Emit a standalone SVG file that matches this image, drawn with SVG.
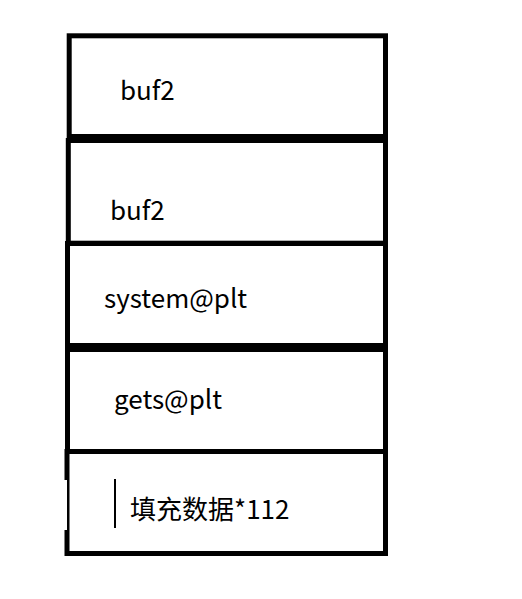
<svg xmlns="http://www.w3.org/2000/svg" width="522" height="599" viewBox="0 0 522 599">
<style>
.box{fill:none;stroke:#000;stroke-width:5}
.t{font-family:"Noto Sans CJK SC","Microsoft YaHei","Noto Sans",sans-serif;font-size:26px;fill:#000}
</style>
<rect width="522" height="599" fill="#fff"/>
<g id="node-buf2-top"><rect class="box" x="69.2" y="35.8" width="316.3" height="100.7"/><text class="t" x="120" y="100">buf2</text></g>
<g id="node-buf2"><rect class="box" x="68.3" y="140.5" width="317.2" height="102.7"/><text class="t" x="110" y="220">buf2</text></g>
<g id="node-system"><rect class="box" x="67.5" y="243.5" width="318" height="102"/><text class="t" x="104" y="308">system@plt</text></g>
<g id="node-gets"><rect class="box" x="67.5" y="349.5" width="318" height="102"/><text class="t" x="114" y="409">gets@plt</text></g>
<g id="node-fill"><rect class="box" x="67" y="451.5" width="318.5" height="102"/><rect x="63" y="480" width="4" height="50" fill="#fff"/><line x1="115" y1="479" x2="115" y2="528" stroke="#000" stroke-width="2"/><text class="t" x="130" y="519">填充数据*112</text></g>
<g id="connectors"></g>
</svg>
